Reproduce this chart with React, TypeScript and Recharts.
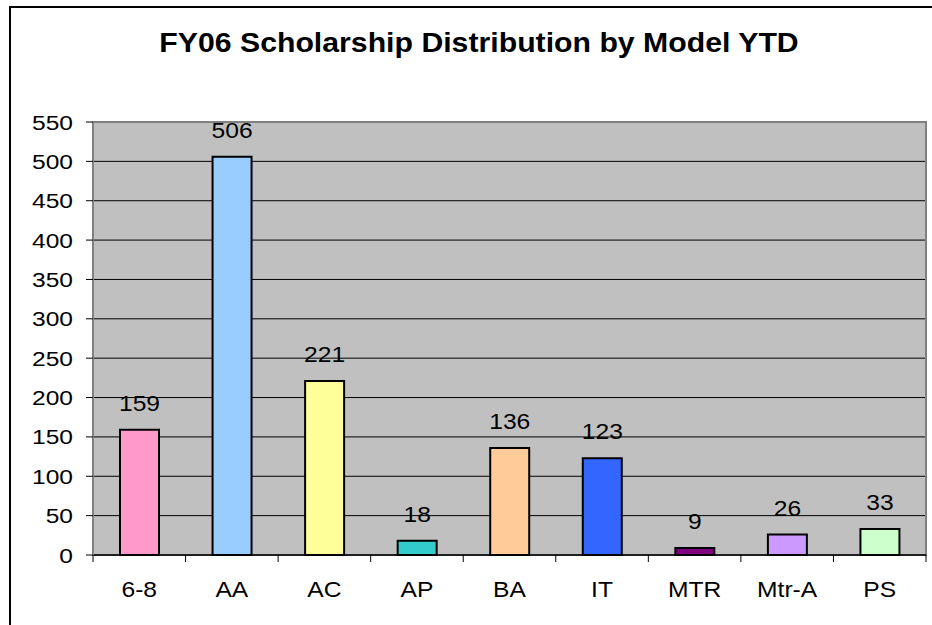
import React from 'react';
import { BarChart, Bar, XAxis, YAxis, CartesianGrid, Cell, LabelList, ReferenceArea } from 'recharts';

const models = ['6-8', 'AA', 'AC', 'AP', 'BA', 'IT', 'MTR', 'Mtr-A', 'PS'];
const counts = [159, 506, 221, 18, 136, 123, 9, 26, 33];
const barColors = ['#FF99CC', '#99CCFF', '#FFFF99', '#33CCCC', '#FFCC99', '#3366FF', '#800080', '#CC99FF', '#CCFFCC'];
const yTicks = [0, 50, 100, 150, 200, 250, 300, 350, 400, 450, 500, 550];

const data = models.map((m, i) => ({ model: m, count: counts[i] }));

const FONT = '"Liberation Sans", Arial, sans-serif';

// the excel export is stretched a bit sideways, so text gets a scaleX
function Wide({ x, y, anchor, size, bold, stretch = 1.15, children }: any) {
  return (
    <text
      transform={`translate(${x},${y}) scale(${stretch},1)`}
      textAnchor={anchor}
      fontSize={size}
      fontWeight={bold ? 'bold' : 'normal'}
      fontFamily={FONT}
      fill="#000"
    >
      {children}
    </text>
  );
}

// x ticks sit between categories like the excel chart, label in the middle
function ModelTick(props: any) {
  const { x, y, payload, index, visibleTicksCount } = props;
  const half = payload.offset || 0;
  const last = index === visibleTicksCount - 1;
  return (
    <g>
      <line x1={x - half} x2={x - half} y1={y - 7} y2={y} stroke="#000" />
      {last && <line x1={x + half} x2={x + half} y1={y - 7} y2={y} stroke="#000" />}
      <Wide x={x} y={y + 35} anchor="middle" size={22} stretch={1.12}>{payload.value}</Wide>
    </g>
  );
}

function CountTick(props: any) {
  const { x, y, payload } = props;
  return <Wide x={x} y={y + 7.5} anchor="end" size={21} stretch={1.17}>{payload.value}</Wide>;
}

function CountLabel(props: any) {
  const { x, y, width, value } = props;
  return <Wide x={x + width / 2} y={y - 19} anchor="middle" size={22} stretch={1.12}>{value}</Wide>;
}

export default function App() {
  return (
    <div style={{ position: 'fixed', left: 0, top: 0, width: 932, height: 625, overflow: 'hidden', background: '#fff' }}>
      <div style={{ position: 'absolute', left: 9, top: 6, width: 1000, height: 1000, border: '2px solid #000' }} />
      <div style={{ position: 'absolute', left: 0, top: 0 }}>
        <BarChart width={932} height={625} data={data} margin={{ top: 122, right: 6, bottom: 30, left: 0 }}>
          <Wide x={479} y={52} anchor="middle" size={27} stretch={1.12} bold>
            FY06 Scholarship Distribution by Model YTD
          </Wide>
          <CartesianGrid vertical={false} stroke="#000" fill="#C0C0C0" fillOpacity={1} />
          <ReferenceArea y1={0} y2={550} fill="none" stroke="#808080" strokeWidth={2} ifOverflow="visible" />
          <XAxis
            dataKey="model"
            height={40}
            tickSize={7}
            tickMargin={0}
            tickLine={false}
            axisLine={{ stroke: '#000', strokeWidth: 1.5 }}
            tick={<ModelTick />}
            interval={0}
          />
          <YAxis
            width={93}
            domain={[0, 550]}
            ticks={yTicks}
            interval={0}
            tickSize={7}
            tickMargin={13}
            axisLine={{ stroke: '#808080', strokeWidth: 2 }}
            tickLine={{ stroke: '#000' }}
            tick={<CountTick />}
          />
          <Bar dataKey="count" barSize={39} stroke="#000" strokeWidth={2} isAnimationActive={false}>
            {data.map((d, i) => (
              <Cell key={d.model} fill={barColors[i]} />
            ))}
            <LabelList dataKey="count" content={<CountLabel />} />
          </Bar>
        </BarChart>
      </div>
    </div>
  );
}
